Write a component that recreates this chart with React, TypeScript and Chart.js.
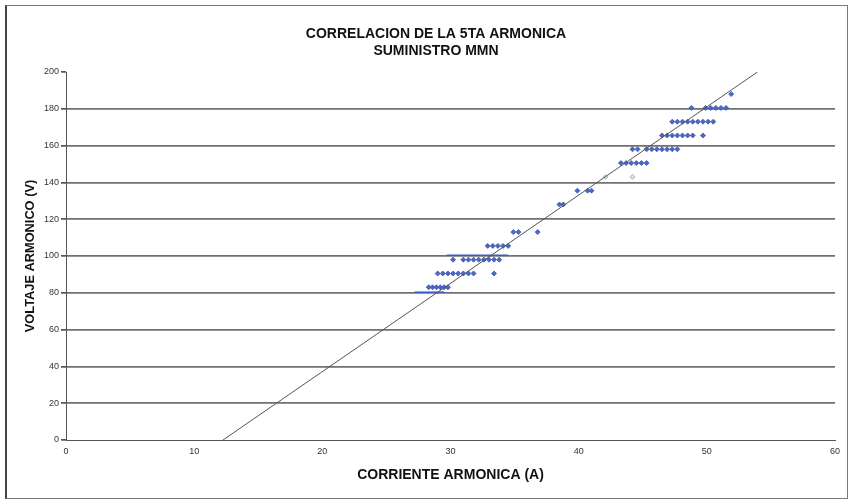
import React, { useEffect, useRef } from "react";
import { Chart, registerables } from "chart.js";

Chart.register(...registerables);

const TITLE_LINES = ["CORRELACION DE LA 5TA ARMONICA", "SUMINISTRO MMN"];
const X_TITLE = "CORRIENTE ARMONICA (A)";
const Y_TITLE = "VOLTAJE ARMONICO (V)";

// Measured points: current (A) and voltage (V)
const currentA: number[] = [
  28.3, 28.6, 28.9, 29.2, 29.5, 29.8,
  29.0, 29.4, 29.8, 30.2, 30.6, 31.0, 31.4, 31.8, 33.4,
  30.2, 31.0, 31.4, 31.8, 32.2, 32.6, 33.0, 33.4, 33.8,
  32.9, 33.3, 33.7, 34.1, 34.5,
  34.9, 35.3, 36.8,
  38.5, 38.8,
  39.9, 40.7, 41.0,
  43.3, 43.7, 44.1, 44.5, 44.9, 45.3,
  44.2, 44.6, 45.3, 45.7, 46.1, 46.5, 46.9, 47.3, 47.7,
  46.5, 46.9, 47.3, 47.7, 48.1, 48.5, 48.9, 49.7,
  47.3, 47.7, 48.1, 48.5, 48.9, 49.3, 49.7, 50.1, 50.5,
  48.8, 49.9, 50.3, 50.7, 51.1, 51.5,
  51.9,
];
const voltageV: number[] = [
  83, 83, 83, 83, 83, 83,
  90.5, 90.5, 90.5, 90.5, 90.5, 90.5, 90.5, 90.5, 90.5,
  98, 98, 98, 98, 98, 98, 98, 98, 98,
  105.5, 105.5, 105.5, 105.5, 105.5,
  113, 113, 113,
  128, 128,
  135.5, 135.5, 135.5,
  150.5, 150.5, 150.5, 150.5, 150.5, 150.5,
  158, 158, 158, 158, 158, 158, 158, 158, 158,
  165.5, 165.5, 165.5, 165.5, 165.5, 165.5, 165.5, 165.5,
  173, 173, 173, 173, 173, 173, 173, 173, 173,
  180.5, 180.5, 180.5, 180.5, 180.5, 180.5,
  188,
];

// Faint (gray) points
const faintCurrentA: number[] = [42.1, 44.2];
const faintVoltageV: number[] = [143, 143];

// Linear trend line end points
const trendCurrentA: number[] = [12.25, 53.95];
const trendVoltageV: number[] = [0, 200];

// Short blue segments
const seg1CurrentA: number[] = [27.2, 29.5];
const seg1VoltageV: number[] = [80.3, 80.3];
const seg2CurrentA: number[] = [29.7, 34.5];
const seg2VoltageV: number[] = [100.4, 100.4];

const X_MIN = 0;
const X_MAX = 60;
const X_STEP = 10;
const Y_MIN = 0;
const Y_MAX = 200;
const Y_STEP = 20;

const toPts = (xs: number[], ys: number[]) => xs.map((x, i) => ({ x, y: ys[i] }));

const FONT = "'Liberation Sans', Arial, sans-serif";

export default function App() {
  const ref = useRef<HTMLCanvasElement | null>(null);

  useEffect(() => {
    if (!ref.current) return;
    const chart = new Chart(ref.current, {
      type: "scatter",
      data: {
        datasets: [
          {
            label: "Trend",
            data: toPts(trendCurrentA, trendVoltageV),
            showLine: true,
            borderColor: "#555",
            borderWidth: 1,
            pointRadius: 0,
          },
          {
            label: "seg1",
            data: toPts(seg1CurrentA, seg1VoltageV),
            showLine: true,
            borderColor: "#3d5cc4",
            borderWidth: 1.6,
            pointRadius: 0,
          },
          {
            label: "seg2",
            data: toPts(seg2CurrentA, seg2VoltageV),
            showLine: true,
            borderColor: "#3d5cc4",
            borderWidth: 1.6,
            pointRadius: 0,
          },
          {
            label: "Datos",
            data: toPts(currentA, voltageV),
            showLine: false,
            pointStyle: "rectRot",
            pointRadius: 2.5,
            backgroundColor: "#4a68c8",
            borderColor: "#3a56b0",
            borderWidth: 0.8,
          },
          {
            label: "Datos2",
            data: toPts(faintCurrentA, faintVoltageV),
            showLine: false,
            pointStyle: "rectRot",
            pointRadius: 2.5,
            backgroundColor: "rgba(200,205,220,0.6)",
            borderColor: "#9aa2b8",
            borderWidth: 0.8,
          },
        ],
      },
      options: {
        animation: false,
        responsive: false,
        events: [],
        layout: { padding: { left: 37, right: 18, top: 0, bottom: 0 } },
        plugins: {
          legend: { display: false },
          tooltip: { enabled: false },
          title: {
            display: true,
            text: TITLE_LINES,
            color: "#111",
            font: { family: FONT, size: 14, weight: "bold", lineHeight: 17 / 14 },
            padding: { top: 26, bottom: 12 },
          },
        },
        scales: {
          x: {
            type: "linear",
            min: X_MIN,
            max: X_MAX,
            afterFit: (s: any) => {
              s.height = 64;
            },
            ticks: {
              stepSize: X_STEP,
              color: "#333",
              font: { family: FONT, size: 9 },
              padding: 6,
            },
            grid: { display: true, color: "transparent", drawTicks: false },
            border: { display: true, color: "#555", width: 1 },
            title: {
              display: true,
              text: X_TITLE,
              color: "#111",
              font: { family: FONT, size: 14, weight: "bold" },
              padding: { top: 0, bottom: 20.5 },
            },
          },
          y: {
            type: "linear",
            min: Y_MIN,
            max: Y_MAX,
            afterFit: (s: any) => {
              s.width = 29;
            },
            ticks: {
              stepSize: Y_STEP,
              color: "#333",
              font: { family: FONT, size: 9 },
              padding: 2,
            },
            grid: {
              display: true,
              color: (ctx: any) =>
                ctx.tick && (ctx.tick.value === Y_MAX || ctx.tick.value === Y_MIN) ? "transparent" : "#707070",
              lineWidth: 1.7,
              tickColor: "#555",
              tickLength: 5,
              drawTicks: true,
            },
            border: { display: true, color: "#555", width: 1 },
            title: {
              display: true,
              text: Y_TITLE,
              color: "#111",
              font: { family: FONT, size: 12.8, weight: "bold" },
              padding: { top: -14.5, bottom: 0 },
            },
          },
        },
      },
    });
    return () => chart.destroy();
  }, []);

  return (
    <div style={{ position: "absolute", left: 0, top: 0, width: 853, height: 504, background: "#fff" }}>
      <div
        style={{
          position: "absolute",
          left: 5,
          top: 5,
          width: 843,
          height: 494,
          border: "1px solid #777",
          borderLeft: "2px solid #444",
          boxSizing: "border-box",
        }}
      />
      <canvas ref={ref} width={853} height={504} style={{ position: "absolute", left: 0, top: 0 }} />
    </div>
  );
}
